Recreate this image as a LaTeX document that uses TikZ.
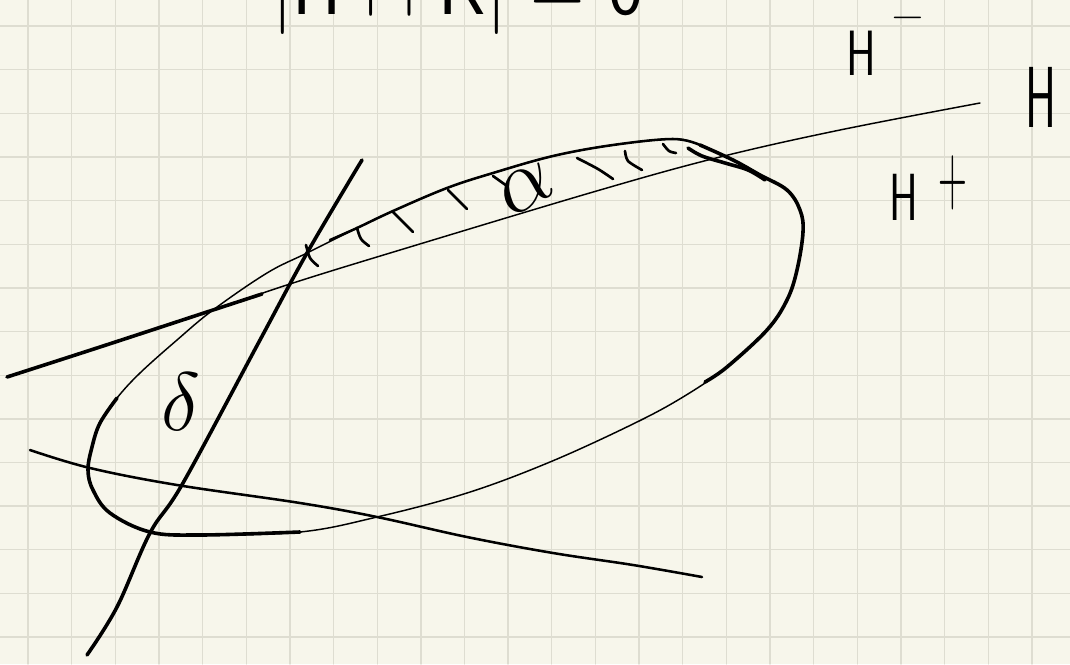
\RequirePackage{fix-cm}
\documentclass[tikz,border=0pt]{standalone}
\usepackage{xcolor}
\usepackage{amsmath}
\usepackage{graphicx}
\usepackage{tikz}
\definecolor{paper}{HTML}{F7F6EB}
\definecolor{gridline}{HTML}{DEDDD1}
\begin{document}
\begin{tikzpicture}[x=0.75pt,y=-0.75pt, line cap=round, line join=round,
  gridrule/.style={gridline,line width=1pt},
  thinpen/.style={line width=1.1pt},
  pen/.style={line width=1.9pt},
  heavypen/.style={line width=2.7pt},
  hatchmark/.style={line width=2pt},
  handlabel/.style={inner sep=0pt,font=\sffamily}]
\useasboundingbox (0,0) rectangle (1070,664);
\fill[paper] (0,0) rectangle (1070,664);
\foreach \i in {0,...,23} \draw[gridrule] ({28+43.65*\i},0) -- ({28+43.65*\i},664);
\foreach \j in {0,...,14} \draw[gridrule] (0,{26+43.65*\j}) -- (1070,{26+43.65*\j});
\node[handlabel,anchor=base west,font=\sffamily\fontsize{60}{60}\selectfont] (title) at (272,14) {\scalebox{0.93}[1]{|H $\cap$ K| = 0}};
\draw[thinpen] plot[smooth,tension=0.6] coordinates {(7,377) (100,347) (213,310) (293,283) (400,250) (600,190) (720,157) (840,130) (980,103)};
\draw[heavypen] plot[smooth,tension=0.6] coordinates {(7,377) (100,347) (213,310) (262,294)};
\draw[heavypen] plot[smooth,tension=0.6] coordinates {(362,160) (307,253) (260,340) (183,483) (150,533) (117,607) (87,655)};
\draw[pen] plot[smooth,tension=0.6] coordinates {(30,450) (90,468) (177,485) (300,503) (377,517) (467,537) (553,553) (633,565) (702,577)};
\draw[thinpen] plot[smooth cycle,tension=0.6] coordinates {(117,398) (140,373) (177,340) (213,310) (267,273) (307,253) (357,228) (393,211) (447,188) (493,173) (553,156) (613,145) (673,139) (700,145) (733,160) (760,175) (787,190) (800,210) (803,232) (797,270) (787,300) (767,330) (727,367) (683,397) (633,424) (550,462) (467,493) (377,517) (300,532) (200,535) (150,532) (110,513) (93,490) (88,470) (92,447) (100,423)};
\draw[pen] plot[smooth,tension=0.6] coordinates {(330,240) (357,228) (393,211) (447,188) (493,173) (553,156) (613,145) (673,139) (700,145)};
\draw[heavypen] plot[smooth,tension=0.6] coordinates {(700,145) (733,160) (760,175) (787,190) (800,210) (803,232) (797,270) (787,300) (767,330) (727,367) (705,382)};
\draw[heavypen] plot[smooth,tension=0.6] coordinates {(300,532) (200,535) (150,532) (110,513) (93,490) (88,470) (92,447) (100,423) (117,398)};
\draw[heavypen] plot[smooth,tension=0.6] coordinates {(688,148) (702,156) (725,163) (748,170) (765,180)};
\draw[hatchmark] plot[smooth] coordinates {(306,245) (310,258) (318,266)};
\draw[hatchmark] plot[smooth] coordinates {(357,228) (361,239) (369,246)};
\draw[hatchmark] (393,212) -- (413,232);
\draw[hatchmark] (448,190) -- (467,209);
\draw[hatchmark] (493,176) -- (507,186);
\draw[hatchmark] plot[smooth] coordinates {(577,158) (598,169) (613,179)};
\draw[hatchmark] plot[smooth] coordinates {(625,151) (628,161) (642,170)};
\draw[hatchmark] plot[smooth] coordinates {(663,144) (669,151) (676,153)};
\node[handlabel,rotate=30,font=\fontsize{66}{66}\selectfont] (alphamark) at (526,188) {$\alpha$};
\node[handlabel,font=\fontsize{62}{62}\selectfont] (deltamark) at (181,402) {$\delta$};
\node[handlabel,anchor=base west,font=\sffamily\fontsize{65}{65}\selectfont] (hplane) at (1025,127) {\scalebox{0.54}[1]{H}};
\node[handlabel,anchor=base west,font=\sffamily\fontsize{48}{48}\selectfont] (hminus) at (846,75) {\scalebox{0.7}[1]{H}\hspace{0.22em}\raisebox{0.74em}{\scalebox{0.7}[0.6]{$-$}}};
\node[handlabel,anchor=base west,font=\sffamily\fontsize{50}{50}\selectfont] (hplus) at (889,220) {\scalebox{0.65}[1]{H}\hspace{0.3em}\raisebox{0.24em}{\scalebox{0.6}[1.3]{$+$}}};
\end{tikzpicture}
\end{document}
